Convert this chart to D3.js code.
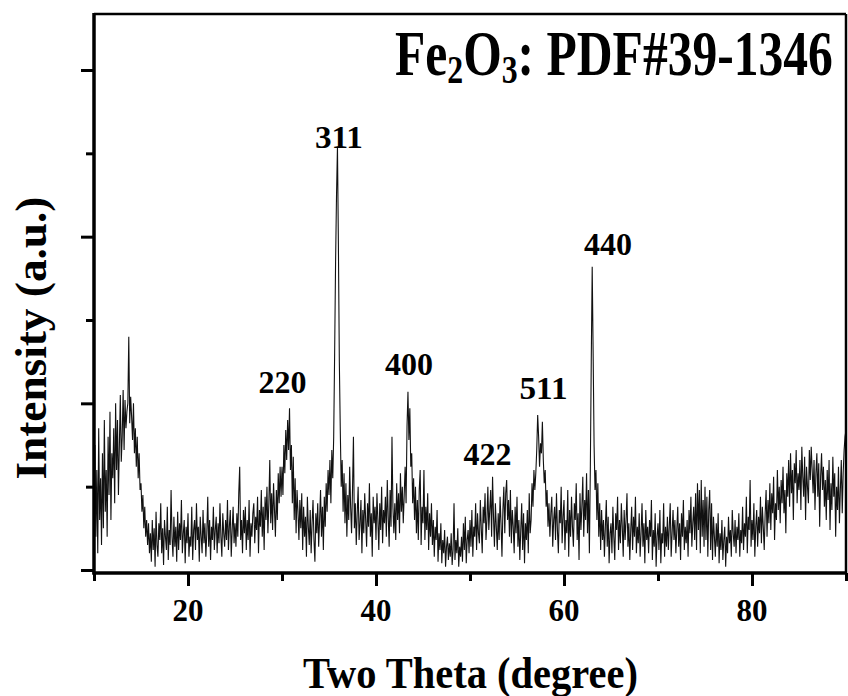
<!DOCTYPE html>
<html>
<head>
<meta charset="utf-8">
<script src="https://cdn.jsdelivr.net/npm/d3@7"></script>
<style>
  body { margin: 0; background: #fff; }
  text { font-family: "Liberation Serif", "Times New Roman", serif; font-weight: bold; fill: #000; }
</style>
</head>
<body>
<script>
// scan grid (degrees)
var angleStart = 10;
var angleStep = 0.1;

// intensity, one line per degree
var intensity = [
  40, 75, 20, 60, 10, 85, 30, 55, 15, 70,
  25, 90, 35, 60, 20, 80, 45, 95, 30, 70,
  55, 85, 40, 100, 60, 90, 45, 75, 105, 65,
  80, 108, 72, 102, 85, 95, 100, 140, 88, 104,
  92, 78, 100, 70, 85, 62, 80, 55, 70, 48,
  52, 35, 45, 25, 38, 20, 30, 15, 28, 10,
  22, 5, 30, 12, 25, 2, 35, 15, 8, 28,
  18, 40, 10, 25, 3, 30, 20, 12, 38, 6,
  24, 15, 48, 20, 8, 32, 14, 26, 5, 35,
  12, 28, 18, 42, 10, 22, 30, 4, 26, 16,
  34, 8, 20, 14, 38, 6, 24, 30, 12, 40,
  18, 26, 5, 32, 20, 10, 36, 16, 28, 8,
  22, 44, 14, 30, 6, 26, 18, 38, 12, 24,
  32, 10, 28, 16, 40, 20, 8, 34, 22, 14,
  30, 18, 42, 12, 26, 36, 8, 24, 38, 16,
  28, 14, 34, 20, 46, 62, 18, 30, 10, 36,
  22, 38, 12, 30, 18, 42, 8, 28, 20, 34,
  40, 16, 32, 24, 44, 10, 36, 26, 48, 20,
  38, 12, 44, 30, 50, 22, 40, 66, 28, 46,
  24, 52, 36, 20, 48, 30, 58, 40, 62, 44,
  62, 45, 75, 58, 84, 66, 90, 72, 97, 60,
  75, 40, 68, 30, 55, 22, 48, 35, 18, 42,
  25, 46, 12, 38, 20, 32, 8, 44, 26, 15,
  36, 10, 28, 42, 18, 5, 34, 22, 40, 14,
  30, 48, 20, 38, 12, 44, 26, 52, 35, 60,
  45, 66, 40, 72, 55, 80, 130, 185, 225, 254,
  195, 125, 84, 50, 66, 35, 58, 28, 52, 20,
  45, 30, 62, 38, 22, 48, 80, 25, 40, 15,
  34, 50, 18, 28, 42, 10, 36, 22, 46, 30,
  14, 40, 26, 52, 20, 34, 8, 44, 28, 38,
  18, 46, 30, 12, 40, 24, 50, 16, 36, 28,
  44, 20, 54, 32, 14, 48, 26, 80, 38, 22,
  40, 18, 52, 30, 46, 22, 58, 35, 50, 28,
  45, 62, 40, 86, 107, 78, 97, 62, 70, 40,
  55, 30, 50, 22, 42, 18, 48, 60, 15, 38,
  28, 60, 18, 38, 24, 46, 12, 34, 20, 40,
  15, 30, 8, 26, 18, 36, 5, 22, 12, 28,
  4, 18, 10, 24, 2, 14, 20, 6, 16, 8,
  22, 3, 12, 40, 6, 18, 10, 25, 2, 14,
  8, 20, 5, 28, 12, 32, 4, 18, 24, 10,
  30, 14, 36, 8, 26, 20, 40, 12, 34, 22,
  16, 42, 25, 10, 38, 28, 46, 18, 30, 50,
  24, 36, 48, 20, 56, 32, 14, 40, 26, 12,
  34, 18, 44, 28, 8, 36, 50, 22, 46, 54,
  30, 42, 20, 48, 16, 36, 26, 10, 38, 22,
  44, 14, 30, 6, 24, 40, 12, 34, 4, 28,
  18, 36, 10, 46, 22, 30, 52, 38, 60, 48,
  58, 72, 93, 80, 62, 76, 70, 89, 66, 52,
  60, 38, 48, 26, 40, 20, 34, 44, 14, 30,
  38, 18, 46, 24, 10, 36, 28, 50, 16, 32,
  42, 12, 30, 22, 48, 8, 36, 20, 44, 26,
  14, 40, 30, 52, 18, 34, 6, 46, 24, 38,
  56, 20, 42, 30, 58, 22, 48, 10, 60, 125,
  182, 130, 75, 48, 60, 30, 52, 20, 40, 12,
  36, 18, 30, 8, 26, 42, 14, 32, 4, 22,
  28, 10, 38, 20, 6, 34, 24, 44, 12, 30,
  16, 40, 26, 8, 36, 18, 30, 46, 14, 28,
  6, 24, 38, 12, 32, 20, 44, 10, 26, 16,
  34, 8, 22, 40, 14, 28, 4, 36, 18, 26,
  10, 30, 20, 42, 6, 24, 14, 34, 2, 20,
  28, 12, 36, 4, 22, 16, 40, 8, 26, 14,
  32, 12, 26, 40, 8, 22, 36, 18, 30, 10,
  24, 38, 14, 28, 6, 34, 20, 42, 12, 26,
  16, 30, 8, 36, 22, 44, 14, 28, 38, 18,
  46, 12, 52, 24, 48, 10, 54, 20, 42, 14,
  50, 18, 44, 8, 36, 48, 12, 40, 6, 32,
  20, 8, 28, 14, 34, 4, 22, 12, 30, 6,
  18, 26, 2, 20, 10, 32, 16, 24, 8, 36,
  22, 14, 30, 10, 26, 18, 34, 8, 24, 16,
  38, 12, 28, 20, 44, 10, 32, 24, 54, 14,
  30, 18, 40, 8, 26, 36, 14, 32, 22, 44,
  16, 38, 26, 12, 34, 48, 20, 42, 28, 52,
  24, 46, 34, 56, 18, 40, 30, 60, 36, 50,
  28, 54, 40, 62, 34, 48, 22, 58, 44, 66,
  38, 70, 46, 60, 30, 64, 52, 72, 40, 58,
  48, 66, 36, 74, 56, 44, 68, 30, 62, 50,
  40, 72, 54, 74, 60, 46, 66, 36, 58, 70,
  44, 64, 26, 56, 70, 48, 62, 38, 54, 30,
  60, 42, 66, 24, 52, 36, 68, 44, 58, 20,
  50, 36, 62, 28, 48, 66, 34, 58, 72, 80,
  84
];

// peak labels (hkl), where they sit: angle and intensity level of the baseline
var peakNames = ["220", "311", "400", "422", "511", "440"];
var peakAngles = [30.05, 36.06, 43.5, 51.86, 57.82, 64.68];
var peakLevels = [106, 253, 117, 63, 102.6, 189];

var xMajor = [20, 40, 60, 80];
var xMinor = [10, 30, 50, 70, 90];
var yMajor = [0, 100, 200, 300];
var yMinor = [50, 150, 250];

(function () {
    var width = 848, height = 696;
    var left = 94, right = 846, topY = 14, bottom = 573;

    var svg = d3.select("body").append("svg")
        .attr("width", width)
        .attr("height", height);

    var x = d3.scaleLinear().domain([10, 90]).range([left, right]);
    var y = d3.scaleLinear().domain([-1.8, 333.6]).range([bottom, topY]);

    var points = intensity.map(function (v, i) {
        return [angleStart + i * angleStep, v];
    });

    svg.append("clipPath").attr("id", "plot")
        .append("rect")
        .attr("x", left).attr("y", topY)
        .attr("width", right - left).attr("height", bottom - topY);

    var line = d3.line()
        .x(function (d) { return x(d[0]); })
        .y(function (d) { return y(d[1]); });

    svg.append("path")
        .datum(points)
        .attr("clip-path", "url(#plot)")
        .attr("d", line)
        .attr("fill", "none")
        .attr("stroke", "#111")
        .attr("stroke-width", 1.1);

    // frame
    svg.append("line").attr("x1", left).attr("x2", right).attr("y1", topY).attr("y2", topY)
        .attr("stroke", "#000").attr("stroke-width", 2.5);
    svg.append("line").attr("x1", right).attr("x2", right).attr("y1", topY).attr("y2", bottom)
        .attr("stroke", "#000").attr("stroke-width", 2.5);

    function styleAxis(g) {
        g.select(".domain").remove();
        g.selectAll(".tick line").attr("stroke", "#000").attr("stroke-width", 3);
    }

    svg.append("g")
        .attr("transform", "translate(0," + bottom + ")")
        .call(d3.axisBottom(x).tickValues(xMinor).tickSize(8).tickFormat(""))
        .call(styleAxis);
    svg.append("g")
        .attr("transform", "translate(0," + bottom + ")")
        .call(d3.axisBottom(x).tickValues(xMajor).tickSize(13).tickFormat(""))
        .call(styleAxis);

    svg.append("g")
        .attr("transform", "translate(" + left + ",0)")
        .call(d3.axisLeft(y).tickValues(yMinor).tickSize(8).tickFormat(""))
        .call(styleAxis);
    svg.append("g")
        .attr("transform", "translate(" + left + ",0)")
        .call(d3.axisLeft(y).tickValues(yMajor).tickSize(13).tickFormat(""))
        .call(styleAxis);

    svg.append("line").attr("x1", left).attr("x2", left).attr("y1", topY - 1).attr("y2", bottom + 1.5)
        .attr("stroke", "#000").attr("stroke-width", 3.5);
    svg.append("line").attr("x1", left - 1.5).attr("x2", right + 1).attr("y1", bottom).attr("y2", bottom)
        .attr("stroke", "#000").attr("stroke-width", 3.5);

    // centre a text at cx and squeeze it to a target width
    function squeeze(t, cx, baseY, targetW, rotate) {
        var w = t.node().getBBox().width;
        var s = targetW ? targetW / w : 1;
        if (rotate) {
            t.attr("transform", "translate(" + cx + "," + baseY + ") rotate(-90) translate(" + (-w * s / 2) + ",0) scale(" + s + ",1)");
        } else {
            t.attr("transform", "translate(" + (cx - w * s / 2) + "," + baseY + ") scale(" + s + ",1)");
        }
    }

    xMajor.forEach(function (v) {
        var t = svg.append("text").attr("font-size", 31).text(v);
        squeeze(t, x(v), 621, null);
    });

    peakNames.forEach(function (name, i) {
        var t = svg.append("text").attr("font-size", 32).text(name);
        squeeze(t, x(peakAngles[i]), y(peakLevels[i]), 48);
    });

    var title = svg.append("text").attr("font-size", 64);
    title.append("tspan").text("Fe");
    title.append("tspan").attr("font-size", 41).attr("dy", 8).text("2");
    title.append("tspan").attr("dy", -8).text("O");
    title.append("tspan").attr("font-size", 41).attr("dy", 8).text("3");
    title.append("tspan").attr("dy", -8).text(": PDF#39-1346");
    squeeze(title, 614, 75, 438);

    var xt = svg.append("text").attr("font-size", 44).text("Two Theta (degree)");
    squeeze(xt, 470.5, 688, 335);

    var yt = svg.append("text").attr("font-size", 44).text("Intensity (a.u.)");
    squeeze(yt, 46, 338, 283, true);
})();
</script>
</body>
</html>
